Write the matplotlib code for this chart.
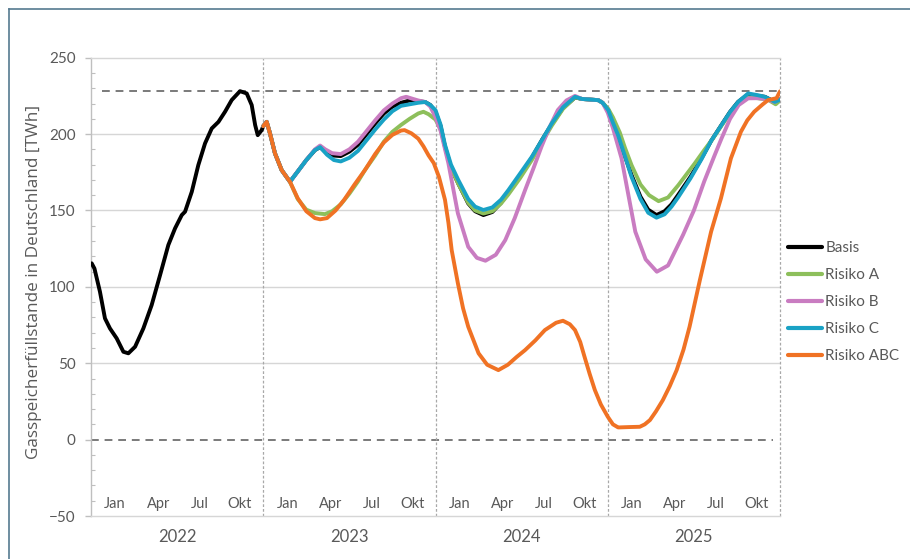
import matplotlib
matplotlib.use("Agg")
import matplotlib.pyplot as plt
from matplotlib.lines import Line2D
from matplotlib.ticker import MultipleLocator

# Time axis: years since 1 Jan 2022
basis_t = [0.004, 0.02, 0.052, 0.081, 0.11, 0.149, 0.188, 0.217, 0.256, 0.304, 0.352, 0.401,
           0.449, 0.488, 0.527, 0.546, 0.585, 0.623, 0.662, 0.701, 0.74, 0.778, 0.817, 0.865,
           0.904, 0.933, 0.953, 0.968, 0.991, 1.0, 1.02, 1.039, 1.068, 1.107, 1.155, 1.2, 1.25,
           1.3, 1.33, 1.36, 1.4, 1.45, 1.5, 1.55, 1.6, 1.65, 1.7, 1.75, 1.8, 1.85, 1.9, 1.94,
           1.97, 2.0, 2.03, 2.055, 2.09, 2.132, 2.19, 2.23, 2.278, 2.33, 2.38, 2.423, 2.49,
           2.559, 2.62, 2.675, 2.74, 2.81, 2.85, 2.887, 2.945, 2.97, 3.003, 3.03, 3.06, 3.1,
           3.138, 3.19, 3.235, 3.283, 3.33, 3.37, 3.408, 3.48, 3.544, 3.6, 3.66, 3.71, 3.757,
           3.815, 3.87, 3.912, 3.97, 4.0]
basis_v = [115.4, 112, 96.8, 79.4, 72.8, 66.3, 57.5, 56.5, 60.8, 72.8, 88, 107.7,
           127.4, 138.3, 147, 149.2, 162.2, 179.7, 193.9, 203.7, 208, 214.6, 222.3, 228.1,
           226.6, 219, 205.9, 199.3, 202.6, 205.2, 208, 200.5, 187.4, 176.4, 168.8, 175.5, 183,
           189.5, 191.5, 188.5, 186, 185.6, 188.5, 193, 200, 207, 213.5, 218, 220.5, 222, 221.5, 221,
           219, 214.5, 205, 191.7, 178, 167.7, 154.6, 149.5, 147, 149, 155, 161.5, 172.5,
           184.5, 196.5, 206.5, 217, 224, 223, 222.7, 222.2, 220.5, 215.7, 208, 199.3, 185.5,
           173.2, 159, 150.5, 147, 149.5, 154, 160.1, 172, 184.1, 195.5, 205.9, 214.5, 221.1,
           226, 225, 224.4, 221.1, 223]

risiko_a_t = [1.0, 1.02, 1.039, 1.068, 1.107, 1.155, 1.2, 1.25, 1.3, 1.358, 1.4, 1.45, 1.5,
              1.55, 1.59, 1.65, 1.7, 1.75, 1.8, 1.85, 1.9, 1.93, 1.96, 2.0, 2.03, 2.06, 2.09,
              2.132, 2.19, 2.23, 2.278, 2.33, 2.38, 2.423, 2.49, 2.559, 2.62, 2.675, 2.74,
              2.81, 2.85, 2.887, 2.945, 2.97, 3.003, 3.03, 3.07, 3.1, 3.138, 3.19, 3.24,
              3.295, 3.35, 3.41, 3.505, 3.56, 3.61, 3.66, 3.71, 3.757, 3.815, 3.87, 3.93,
              3.975, 4.0]
risiko_a_v = [205.2, 208, 200.5, 187.4, 176.4, 168.8, 157.5, 150.5, 148.3, 147.6, 149.5, 154,
              161, 169, 176.4, 186, 195, 201.5, 206, 210, 213.5, 214.6, 213, 209.5, 203, 190,
              178, 167.5, 155, 150, 148, 149.5, 154.5, 160.5, 171, 183, 195, 205.5, 216.5,
              224, 223, 222.7, 222.2, 220.5, 216.5, 211, 201, 191, 179.7, 167, 160, 156.1,
              158.5, 166.6, 180.8, 189.5, 197, 205.5, 213.5, 219.5, 224, 223.5, 222.5, 219.5,
              222]

risiko_b_t = [1.0, 1.02, 1.039, 1.068, 1.107, 1.155, 1.2, 1.25, 1.3, 1.33, 1.36, 1.4, 1.45,
              1.5, 1.55, 1.6, 1.65, 1.7, 1.75, 1.8, 1.83, 1.87, 1.9, 1.94, 1.97, 2.0, 2.03,
              2.075, 2.13, 2.19, 2.24, 2.29, 2.35, 2.405, 2.46, 2.52, 2.57, 2.615, 2.66, 2.71,
              2.76, 2.81, 2.85, 2.887, 2.945, 2.97, 3.0, 3.03, 3.08, 3.12, 3.16, 3.22, 3.285,
              3.35, 3.437, 3.5, 3.56, 3.62, 3.66, 3.71, 3.76, 3.815, 3.87, 3.912, 3.97, 4.0]
risiko_b_v = [205.2, 208, 200.5, 187.4, 176.4, 168.8, 175.5, 183, 190, 192.5, 190, 187.5,
              186.9, 190, 195, 202, 209, 215.5, 220, 223.5, 224.4, 223, 222, 221, 218, 211,
              202, 180.8, 148.1, 126.2, 119, 117.1, 121, 130.6, 145, 163.3, 178, 191.7, 204,
              215.7, 222, 225, 223, 222.7, 222.2, 220.5, 214, 204, 184.1, 160, 136.1, 118,
              109.9, 114, 134, 150, 169, 186, 197, 210, 219, 223.4, 223.5, 223, 221, 223]

risiko_c_t = [1.0, 1.02, 1.039, 1.068, 1.107, 1.155, 1.2, 1.25, 1.3, 1.33, 1.37, 1.41, 1.45,
              1.5, 1.55, 1.6, 1.65, 1.7, 1.75, 1.8, 1.85, 1.9, 1.94, 1.97, 2.0, 2.03, 2.055,
              2.09, 2.132, 2.19, 2.23, 2.278, 2.33, 2.38, 2.423, 2.49, 2.559, 2.62, 2.675,
              2.74, 2.81, 2.85, 2.887, 2.945, 2.97, 3.003, 3.03, 3.06, 3.1, 3.138, 3.19,
              3.235, 3.283, 3.33, 3.37, 3.408, 3.48, 3.544, 3.6, 3.66, 3.71, 3.757, 3.815,
              3.87, 3.912, 3.97, 4.0]
risiko_c_v = [205.2, 208, 200.5, 187.4, 176.4, 168.8, 175.5, 183, 189.5, 191.5, 186.5, 183,
              182.1, 184.5, 189, 196, 203, 209.5, 215, 218.5, 219.5, 220.5, 221, 219, 215.7,
              206, 193, 180, 170, 157.5, 152.5, 150.3, 152, 157, 163.3, 174, 185.1, 196.5,
              207, 217.5, 224.4, 223, 222.7, 222.2, 220.5, 215.7, 207.5, 199.3, 185.5, 172,
              157.5, 148.5, 145.3, 147.5, 152.5, 158.5, 171, 183.5, 195.5, 205.9, 214.5,
              221.1, 226.6, 225.5, 224.4, 221.1, 222.5]

risiko_abc_t = [1.0, 1.02, 1.039, 1.068, 1.107, 1.155, 1.2, 1.25, 1.3, 1.33, 1.37, 1.42, 1.47,
                1.53, 1.59, 1.65, 1.7, 1.75, 1.8, 1.82, 1.86, 1.9, 1.93, 1.96, 1.99, 2.02,
                2.055, 2.075, 2.094, 2.13, 2.16, 2.19, 2.25, 2.3, 2.365, 2.42, 2.47, 2.52,
                2.58, 2.635, 2.7, 2.74, 2.78, 2.81, 2.84, 2.865, 2.895, 2.925, 2.96, 3.0,
                3.03, 3.06, 3.07, 3.12, 3.186, 3.215, 3.245, 3.28, 3.32, 3.36, 3.4, 3.44,
                3.475, 3.535, 3.6, 3.657, 3.715, 3.773, 3.81, 3.85, 3.9, 3.93, 3.96, 3.98, 4.0]
risiko_abc_v = [205.2, 208, 200.5, 187.4, 176.4, 168.8, 158, 149.5, 145, 144.2, 145, 150, 157,
                167, 176.4, 187, 194.5, 199.5, 202.3, 202.6, 200.5, 197, 192, 186, 181, 172,
                157, 142, 124, 102.3, 86, 73.9, 56.5, 49, 45.5, 49, 54, 58.6, 65, 71.7, 76.5,
                77.8, 75.5, 71.7, 64, 54.3, 43, 32.5, 23, 15, 10, 8, 8, 8.2, 8.4, 10, 12.8,
                18.5, 25.9, 35, 45.5, 59, 73.9, 104.5, 136.1, 157.9, 184.1, 201.5, 209, 214.6,
                219.5, 222.2, 223, 223.5, 228]

series_names = ["Basis", "Risiko A", "Risiko B", "Risiko C", "Risiko ABC"]
series_colors = ["#000000", "#8dbf5b", "#c97cc1", "#19a2c5", "#f07224"]
series_data = [(basis_t, basis_v), (risiko_a_t, risiko_a_v), (risiko_b_t, risiko_b_v),
               (risiko_c_t, risiko_c_v), (risiko_abc_t, risiko_abc_v)]

years = ["2022", "2023", "2024", "2025"]
months = ["Jan", "Apr", "Jul", "Okt"]
month_pos = [0.14, 0.39, 0.63, 0.865]
y_ticks = [-50, 0, 50, 100, 150, 200, 250]
capacity_level = 228.5

text_gray = "#595959"
grid_gray = "#d6d6d6"

fig = plt.figure(figsize=(9.10, 5.59), dpi=100)
ax = fig.add_axes([91 / 910, 1 - 516 / 559, (780 - 91) / 910, (516 - 57.7) / 559])

ax.set_xlim(0, 4)
ax.set_ylim(-50, 250)

# horizontal grid
for yv in [50, 100, 150, 200]:
    ax.axhline(yv, color=grid_gray, lw=1.0, zorder=0)

# dashed reference lines at 0 and at storage capacity
ax.plot([0, 3.96], [0, 0], color="#7a7a7a", lw=1.4, dashes=(4, 3), zorder=1)
ax.plot([0.062, 4.0], [capacity_level, capacity_level], color="#7a7a7a", lw=1.4,
        dashes=(4, 3), zorder=1)

# year separators
for k in range(1, 5):
    ax.axvline(k, color="#a8a8a8", lw=0.9, dashes=(2.2, 1.6), zorder=1, clip_on=False)

for (t, v), name, col in zip(series_data, series_names, series_colors):
    ax.plot(t, v, color=col, lw=2.8, label=name, solid_joinstyle="round",
            solid_capstyle="round", zorder=3)

# spines
for side in ["top", "bottom"]:
    ax.spines[side].set_color(grid_gray)
    ax.spines[side].set_linewidth(1.0)
ax.spines["left"].set_color("#bfbfbf")
ax.spines["left"].set_linewidth(1.0)
ax.spines["right"].set_visible(False)

ax.set_yticks(y_ticks)
ax.yaxis.set_minor_locator(MultipleLocator(10))
ax.tick_params(axis="y", which="major", length=4, width=1, color="#bfbfbf", pad=7,
               labelsize=11, labelcolor=text_gray)
ax.tick_params(axis="y", which="minor", length=3, width=0.8, color="#bfbfbf", direction="in")
for lab in ax.get_yticklabels():
    lab.set_fontfamily("Lato")
ax.set_xticks([])

# month labels inside the plot, year labels below
for i, yr in enumerate(years):
    for m, p in zip(months, month_pos):
        ax.text(i + p, -42, m, ha="center", va="center", fontsize=10.5, color=text_gray,
                family="Lato")
    ax.text(i + 0.5, -0.046, yr, ha="center", va="center", fontsize=12, color=text_gray,
            family="Lato", transform=ax.get_xaxis_transform())

fig.text(34 / 910, 1 - 282 / 559, "Gasspeicherfüllstande in Deutschland [TWh]", rotation=90,
         ha="center", va="center", fontsize=12.3, color=text_gray, family="Open Sans")

leg = ax.legend(loc="center left", bbox_to_anchor=(788 / 910, 1 - 302 / 559),
                bbox_transform=fig.transFigure, frameon=False,
                handlelength=2.2, handletextpad=0.25, labelspacing=0.85, borderpad=0,
                borderaxespad=0, prop={"family": "Lato", "size": 11})
for txt in leg.get_texts():
    txt.set_color(text_gray)
for h in leg.get_lines():
    h.set_linewidth(3.0)

# outer frame (top and left edges)
frame_col = "#557a90"
fig.add_artist(Line2D([9 / 910, 1.0], [1 - 9 / 559, 1 - 9 / 559], color=frame_col, lw=1.2,
                      transform=fig.transFigure))
fig.add_artist(Line2D([9 / 910, 9 / 910], [0.0, 1 - 9 / 559], color=frame_col, lw=1.2,
                      transform=fig.transFigure))

fig.savefig("out.png", dpi=100)
